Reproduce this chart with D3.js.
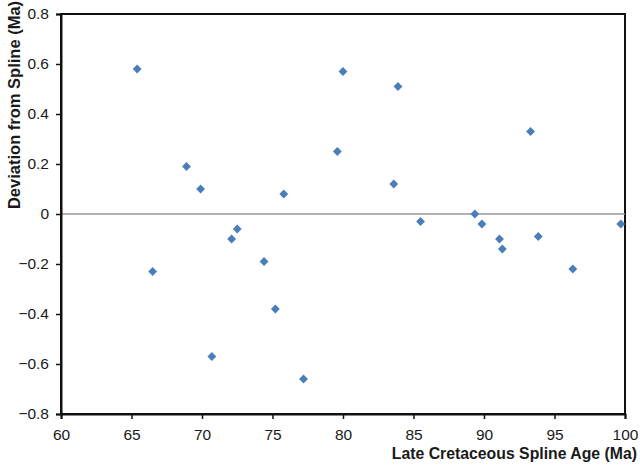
<!DOCTYPE html>
<html>
<head>
<meta charset="utf-8">
<script src="https://cdn.jsdelivr.net/npm/d3@7"></script>
<style>
  body { margin: 0; background: #fff; }
  text { font-family: "Liberation Sans", Arial, sans-serif; fill: #1a1a1a; }
</style>
</head>
<body>
<div id="svg-holder"></div>
<script>
// spline age (Ma) and deviation from spline (Ma)
let ages = [65.4, 66.5, 68.9, 69.9, 70.7, 72.1, 72.5, 74.4, 75.2, 75.8, 77.2, 79.6,
            80.0, 83.6, 83.9, 85.5, 89.35, 89.85, 91.1, 91.3, 93.3, 93.85, 96.3, 99.7]
let deviations = [0.58, -0.23, 0.19, 0.10, -0.57, -0.10, -0.06, -0.19, -0.38, 0.08, -0.66, 0.25,
                  0.57, 0.12, 0.51, -0.03, 0.00, -0.04, -0.10, -0.14, 0.33, -0.09, -0.22, -0.04]
let xTicks = [60, 65, 70, 75, 80, 85, 90, 95, 100]
let yTicks = [-0.8, -0.6, -0.4, -0.2, 0, 0.2, 0.4, 0.6, 0.8]

let width = 640,
    height = 468
let plotLeft = 61, plotRight = 625, plotTop = 14, plotBottom = 414

let svg = d3.select("#svg-holder").append('svg')
    .attr("width", width)
    .attr("height", height)

let x = d3.scaleLinear().domain([60, 100]).range([plotLeft, plotRight])
let y = d3.scaleLinear().domain([-0.8, 0.8]).range([plotBottom, plotTop])

// plot frame
svg.append('rect')
    .attr('x', plotLeft)
    .attr('y', plotTop)
    .attr('width', plotRight - plotLeft)
    .attr('height', plotBottom - plotTop)
    .attr('fill', 'none')
    .attr('stroke', '#111')
    .attr('stroke-width', 2)

// zero line
svg.append('line')
    .attr('x1', plotLeft)
    .attr('x2', plotRight)
    .attr('y1', y(0))
    .attr('y2', y(0))
    .attr('stroke', '#9a9a9a')
    .attr('stroke-width', 1.5)

// axes
let xAxis = svg.append('g')
    .attr('transform', `translate(0,${plotBottom})`)
    .call(d3.axisBottom(x).tickValues(xTicks).tickSize(5).tickPadding(10).tickFormat(d3.format('d')))
let yAxis = svg.append('g')
    .attr('transform', `translate(${plotLeft},0)`)
    .call(d3.axisLeft(y).tickValues(yTicks).tickSize(5).tickPadding(7).tickFormat(d => d === 0 ? '0' : d3.format('.1f')(d)))

;[xAxis, yAxis].forEach(a => {
    a.select('.domain').attr('stroke', '#111').attr('stroke-width', 2)
    a.selectAll('.tick line').attr('stroke', '#111').attr('stroke-width', 1.5)
    a.selectAll('.tick text').style('font-size', '15.5px').attr('fill', '#1a1a1a')
})

// points
svg.append('g')
    .selectAll('path')
    .data(ages.map((a, i) => ({age: a, dev: deviations[i]})))
    .enter()
    .append('path')
    .attr('transform', d => `translate(${x(d.age)},${y(d.dev)})`)
    .attr('d', d3.symbol().type(d3.symbolDiamond2).size(50))
    .attr('fill', '#4a7ebb')

// axis titles
svg.append('text')
    .attr('x', 637)
    .attr('y', 459)
    .attr('text-anchor', 'end')
    .style('font-size', '15.8px')
    .style('font-weight', 'bold')
    .text('Late Cretaceous Spline Age (Ma)')

svg.append('text')
    .attr('transform', 'translate(20,105) rotate(-90)')
    .attr('text-anchor', 'middle')
    .style('font-size', '16.5px')
    .style('font-weight', 'bold')
    .text('Deviation from Spline (Ma)')
</script>
</body>
</html>
